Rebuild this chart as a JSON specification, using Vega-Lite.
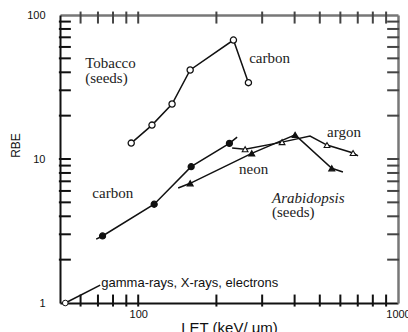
{
  "$schema": "https://vega.github.io/schema/vega-lite/v6.json",
  "width": 338,
  "height": 288,
  "autosize": {"type": "none"},
  "padding": {"left": 60, "top": 15, "right": 10, "bottom": 29},
  "background": "white",
  "config": {
    "view": {"stroke": null},
    "axis": {"grid": false, "labelFont": "Liberation Sans", "titleFont": "Liberation Sans", "labelFontSize": 11, "labelOverlap": false, "labelFlush": false}
  },
  "datasets": {
    "curves": [
      {"series": "tobacco-carbon", "LET": 94, "RBE": 12.9, "marker": true},
      {"series": "tobacco-carbon", "LET": 113, "RBE": 17.2, "marker": true},
      {"series": "tobacco-carbon", "LET": 135, "RBE": 24.1, "marker": true},
      {"series": "tobacco-carbon", "LET": 158.5, "RBE": 41.5, "marker": true},
      {"series": "tobacco-carbon", "LET": 232.6, "RBE": 67, "marker": true},
      {"series": "tobacco-carbon", "LET": 265.6, "RBE": 33.9, "marker": true},
      {"series": "arabidopsis-carbon", "LET": 68.9, "RBE": 2.78, "marker": false},
      {"series": "arabidopsis-carbon", "LET": 72.9, "RBE": 2.92, "marker": true},
      {"series": "arabidopsis-carbon", "LET": 115.2, "RBE": 4.85, "marker": true},
      {"series": "arabidopsis-carbon", "LET": 159.9, "RBE": 8.84, "marker": true},
      {"series": "arabidopsis-carbon", "LET": 224.4, "RBE": 12.85, "marker": true},
      {"series": "arabidopsis-carbon", "LET": 240.3, "RBE": 14.2, "marker": false},
      {"series": "arabidopsis-neon", "LET": 142.5, "RBE": 6.29, "marker": false},
      {"series": "arabidopsis-neon", "LET": 158.5, "RBE": 6.78, "marker": true},
      {"series": "arabidopsis-neon", "LET": 273.5, "RBE": 10.95, "marker": true},
      {"series": "arabidopsis-neon", "LET": 401.8, "RBE": 14.7, "marker": true},
      {"series": "arabidopsis-neon", "LET": 555.8, "RBE": 8.62, "marker": true},
      {"series": "arabidopsis-neon", "LET": 613.8, "RBE": 8.12, "marker": false},
      {"series": "arabidopsis-argon", "LET": 229.9, "RBE": 11.9, "marker": false},
      {"series": "arabidopsis-argon", "LET": 257.9, "RBE": 11.7, "marker": true},
      {"series": "arabidopsis-argon", "LET": 357.9, "RBE": 13.1, "marker": true},
      {"series": "arabidopsis-argon", "LET": 458.6, "RBE": 14.44, "marker": false},
      {"series": "arabidopsis-argon", "LET": 533, "RBE": 12.5, "marker": true},
      {"series": "arabidopsis-argon", "LET": 671.6, "RBE": 11.0, "marker": true},
      {"series": "arabidopsis-argon", "LET": 701.6, "RBE": 10.5, "marker": false},
      {"series": "gamma", "LET": 52.4, "RBE": 1, "marker": true},
      {"series": "gamma", "LET": 71.4, "RBE": 1.33, "marker": false}
    ],
    "notes": [
      {"text": "Tobacco", "LET": 62.5, "RBE": 42.9, "style": "serif"},
      {"text": "(seeds)", "LET": 62.5, "RBE": 33.7, "style": "serif"},
      {"text": "carbon", "LET": 267.3, "RBE": 46.4, "style": "serif"},
      {"text": "argon", "LET": 533, "RBE": 14.2, "style": "serif"},
      {"text": "neon", "LET": 244.5, "RBE": 7.87, "style": "serif"},
      {"text": "carbon", "LET": 66.6, "RBE": 5.36, "style": "serif"},
      {"text": "Arabidopsis", "LET": 327.4, "RBE": 4.95, "style": "italic"},
      {"text": "(seeds)", "LET": 327.4, "RBE": 3.95, "style": "serif"},
      {"text": "gamma-rays, X-rays, electrons", "LET": 72.1, "RBE": 1.377, "style": "sans"}
    ],
    "letTicks": [
      {"at": 60, "kind": "minor"}, {"at": 70, "kind": "minor"}, {"at": 80, "kind": "minor"}, {"at": 90, "kind": "minor"},
      {"at": 100, "kind": "major"},
      {"at": 200, "kind": "minor"}, {"at": 300, "kind": "minor"}, {"at": 400, "kind": "minor"}, {"at": 500, "kind": "minor"},
      {"at": 600, "kind": "minor"}, {"at": 700, "kind": "minor"}, {"at": 800, "kind": "minor"}, {"at": 900, "kind": "minor"}
    ],
    "rbeTicks": [
      {"at": 2, "kind": "minor"}, {"at": 3, "kind": "minor"}, {"at": 4, "kind": "minor"}, {"at": 5, "kind": "minor"},
      {"at": 6, "kind": "minor"}, {"at": 7, "kind": "minor"}, {"at": 8, "kind": "minor"}, {"at": 9, "kind": "minor"},
      {"at": 10, "kind": "major"},
      {"at": 20, "kind": "minor"}, {"at": 30, "kind": "minor"}, {"at": 40, "kind": "minor"}, {"at": 50, "kind": "minor"},
      {"at": 60, "kind": "minor"}, {"at": 70, "kind": "minor"}, {"at": 80, "kind": "minor"}, {"at": 90, "kind": "minor"}
    ]
  },
  "resolve": {"axis": {"x": "independent", "y": "independent"}},
  "layer": [
    {
      "data": {"name": "curves"},
      "mark": {"type": "line", "color": "#111", "strokeWidth": 1.5},
      "encoding": {
        "x": {
          "field": "LET", "type": "quantitative",
          "scale": {"type": "log", "domain": [50, 1000]},
          "axis": {
            "orient": "bottom",
            "values": [100, 1000],
            "format": "d",
            "ticks": false,
            "domainColor": "#111",
            "domainWidth": 2,
            "labelColor": "#111",
            "labelPadding": 5,
            "title": "LET (keV/ μm)",
            "titleColor": "#111",
            "titleFontSize": 15,
            "titleFontWeight": "normal",
            "titleBaseline": "top",
            "titleY": 17,
            "titleX": 169
          }
        },
        "y": {
          "field": "RBE", "type": "quantitative",
          "scale": {"type": "log", "domain": [1, 100]},
          "axis": {
            "orient": "left",
            "values": [1, 10, 100],
            "format": "d",
            "ticks": false,
            "domainColor": "#111",
            "domainWidth": 2,
            "labelColor": "#111",
            "labelPadding": 15,
            "title": "RBE",
            "titleColor": "#111",
            "titleFontSize": 12,
            "titleFontWeight": "normal",
            "titleX": -38,
            "titleY": 130
          }
        },
        "detail": {"field": "series"}
      }
    },
    {
      "data": {"name": "curves"},
      "transform": [{"filter": "datum.marker"}],
      "mark": {"type": "point", "stroke": "#111", "opacity": 1},
      "encoding": {
        "x": {
          "field": "LET", "type": "quantitative",
          "scale": {"type": "log", "domain": [50, 1000]},
          "axis": {"orient": "top", "labels": false, "ticks": false, "title": null, "domainColor": "#777", "domainWidth": 2.5}
        },
        "y": {
          "field": "RBE", "type": "quantitative",
          "scale": {"type": "log", "domain": [1, 100]},
          "axis": {"orient": "right", "labels": false, "ticks": false, "title": null, "domainColor": "#777", "domainWidth": 2.5}
        },
        "shape": {
          "field": "series", "type": "nominal", "legend": null,
          "scale": {
            "domain": ["tobacco-carbon", "arabidopsis-carbon", "arabidopsis-neon", "arabidopsis-argon", "gamma"],
            "range": ["circle", "circle", "triangle-up", "triangle-up", "circle"]
          }
        },
        "fill": {
          "field": "series", "type": "nominal", "legend": null,
          "scale": {
            "domain": ["tobacco-carbon", "arabidopsis-carbon", "arabidopsis-neon", "arabidopsis-argon", "gamma"],
            "range": ["white", "#111", "#111", "white", "white"]
          }
        },
        "size": {
          "field": "series", "type": "nominal", "legend": null,
          "scale": {
            "domain": ["tobacco-carbon", "arabidopsis-carbon", "arabidopsis-neon", "arabidopsis-argon", "gamma"],
            "range": [38, 32, 36, 36, 60]
          }
        },
        "strokeWidth": {
          "field": "series", "type": "nominal", "legend": null,
          "scale": {
            "domain": ["tobacco-carbon", "arabidopsis-carbon", "arabidopsis-neon", "arabidopsis-argon", "gamma"],
            "range": [1.3, 1, 1, 1.3, 2.8]
          }
        }
      }
    },
    {
      "data": {"name": "letTicks"},
      "mark": {"type": "tick", "orient": "vertical", "size": 12, "thickness": 2, "color": "#111", "opacity": 1},
      "encoding": {
        "x": {"field": "at", "type": "quantitative", "scale": {"type": "log", "domain": [50, 1000]}, "axis": null},
        "y": {"datum": 1.04, "type": "quantitative", "scale": {"type": "log", "domain": [1, 100]}, "axis": null}
      }
    },
    {
      "data": {"name": "letTicks"},
      "mark": {"type": "tick", "orient": "vertical", "size": 12, "thickness": 2, "color": "#444", "opacity": 1},
      "encoding": {
        "x": {"field": "at", "type": "quantitative", "scale": {"type": "log", "domain": [50, 1000]}, "axis": null},
        "y": {"datum": 96, "type": "quantitative", "scale": {"type": "log", "domain": [1, 100]}, "axis": null}
      }
    },
    {
      "data": {"name": "rbeTicks"},
      "mark": {"type": "tick", "orient": "horizontal", "size": 12, "thickness": 2, "color": "#111", "opacity": 1},
      "encoding": {
        "x": {"datum": 52.2, "type": "quantitative", "scale": {"type": "log", "domain": [50, 1000]}, "axis": null},
        "y": {"field": "at", "type": "quantitative", "scale": {"type": "log", "domain": [1, 100]}, "axis": null}
      }
    },
    {
      "data": {"name": "rbeTicks"},
      "mark": {"type": "tick", "orient": "horizontal", "size": 12, "thickness": 2, "color": "#444", "opacity": 1},
      "encoding": {
        "x": {"datum": 958, "type": "quantitative", "scale": {"type": "log", "domain": [50, 1000]}, "axis": null},
        "y": {"field": "at", "type": "quantitative", "scale": {"type": "log", "domain": [1, 100]}, "axis": null}
      }
    },
    {
      "data": {"name": "notes"},
      "transform": [{"filter": "datum.style == 'serif'"}],
      "mark": {"type": "text", "font": "Liberation Serif", "fontSize": 15, "align": "left", "baseline": "alphabetic", "color": "#222"},
      "encoding": {
        "x": {"field": "LET", "type": "quantitative", "scale": {"type": "log", "domain": [50, 1000]}, "axis": null},
        "y": {"field": "RBE", "type": "quantitative", "scale": {"type": "log", "domain": [1, 100]}, "axis": null},
        "text": {"field": "text"}
      }
    },
    {
      "data": {"name": "notes"},
      "transform": [{"filter": "datum.style == 'italic'"}],
      "mark": {"type": "text", "font": "Liberation Serif", "fontSize": 15, "fontStyle": "italic", "align": "left", "baseline": "alphabetic", "color": "#222"},
      "encoding": {
        "x": {"field": "LET", "type": "quantitative", "scale": {"type": "log", "domain": [50, 1000]}, "axis": null},
        "y": {"field": "RBE", "type": "quantitative", "scale": {"type": "log", "domain": [1, 100]}, "axis": null},
        "text": {"field": "text"}
      }
    },
    {
      "data": {"name": "notes"},
      "transform": [{"filter": "datum.style == 'sans'"}],
      "mark": {"type": "text", "font": "Liberation Sans", "fontSize": 13, "align": "left", "baseline": "middle", "color": "#111"},
      "encoding": {
        "x": {"field": "LET", "type": "quantitative", "scale": {"type": "log", "domain": [50, 1000]}, "axis": null},
        "y": {"field": "RBE", "type": "quantitative", "scale": {"type": "log", "domain": [1, 100]}, "axis": null},
        "text": {"field": "text"}
      }
    }
  ]
}
